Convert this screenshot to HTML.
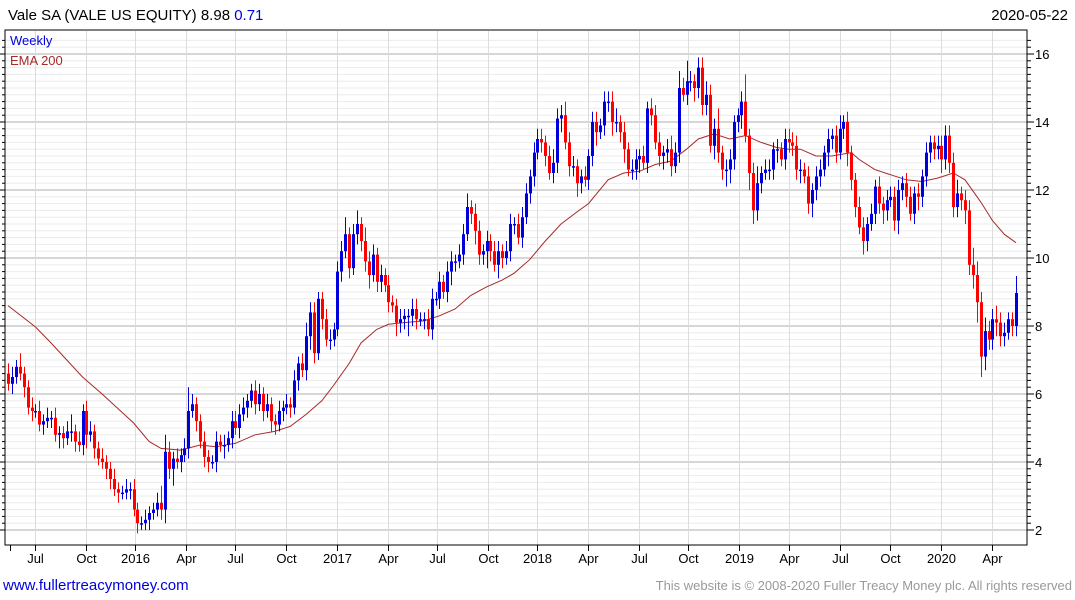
<!DOCTYPE html>
<html><head><meta charset="utf-8"><style>
html,body{margin:0;padding:0;background:#fff;width:1075px;height:600px;overflow:hidden;font-family:"Liberation Sans",sans-serif;}
svg{display:block}
</style></head><body>
<svg id="chart" width="1075" height="600" viewBox="0 0 1075 600">
<text x="8" y="20" font-size="15" fill="#000">Vale SA (VALE US EQUITY) 8.98 <tspan fill="#0000dd">0.71</tspan></text>
<text x="1068" y="20" font-size="15" fill="#000" text-anchor="end">2020-05-22</text>
<g id="grid"></g>
<g id="ema"></g>
<g id="candles"></g>
<rect x="5" y="30" width="1022" height="515" fill="none" stroke="#000" stroke-width="1"/>
<g id="axes"></g>
<text x="10" y="45" font-size="13" fill="#0000dd">Weekly</text>
<text x="10" y="65" font-size="13" fill="#a52a2a">EMA 200</text>
<text x="3" y="590" font-size="15" fill="#0000dd">www.fullertreacymoney.com</text>
<text x="1072" y="590" font-size="13" fill="#999" text-anchor="end">This website is © 2008-2020 Fuller Treacy Money plc. All rights reserved</text>
</svg>
<script>
const closes=[6.3,6.5,6.8,6.6,6.2,5.6,5.5,5.5,5.1,5.2,5.3,5.3,4.8,4.85,4.7,4.9,4.9,4.6,4.5,5.5,4.8,4.9,4.4,4.1,4.0,3.8,3.5,3.2,3.1,3.1,3.2,3.2,2.6,2.2,2.2,2.3,2.5,2.6,2.8,2.6,4.3,3.8,4.1,4.0,4.2,4.4,5.5,5.7,5.2,4.6,4.15,4.0,4.0,4.6,4.5,4.5,4.7,5.2,5.0,5.4,5.6,5.8,6.1,5.7,6.0,5.5,5.7,5.2,5.1,5.5,5.6,5.7,5.6,6.4,6.9,6.7,7.7,8.4,7.2,8.8,8.2,7.6,7.6,7.9,
9.6,10.2,10.7,9.7,10.7,11.0,10.5,9.9,9.5,10.1,9.3,9.5,9.2,8.7,8.6,8.1,8.2,8.3,8.3,8.5,8.2,8.2,8.2,7.9,8.8,8.8,9.3,9.0,9.6,9.9,9.9,10.1,10.7,11.5,11.3,10.8,10.1,10.2,10.5,10.2,9.8,10.2,10.0,10.2,11.0,11.0,10.6,11.2,11.9,12.4,
13.1,13.5,13.4,13.0,12.5,12.8,14.1,14.2,13.4,12.7,12.7,12.2,12.4,12.3,13.0,14.0,13.7,13.9,14.6,14.6,14.0,14.0,13.7,13.2,12.6,12.6,12.9,13.0,12.8,14.4,14.2,13.4,13.0,13.1,13.2,12.7,13.1,15.0,14.8,15.2,15.2,15.0,15.6,14.5,14.8,13.3,13.8,13.1,12.6,12.6,12.9,14.0,14.2,14.6,13.6,12.5,11.4,12.2,12.5,12.6,12.6,13.2,13.2,12.9,13.5,13.4,13.3,12.6,
12.6,12.4,11.6,12.0,12.4,12.6,13.1,13.5,13.6,13.1,13.8,14.0,13.1,12.3,11.5,10.9,10.5,11.0,11.3,12.1,11.6,11.4,11.7,11.8,11.1,12.0,12.2,11.8,11.3,11.9,11.8,12.4,13.1,13.4,13.2,13.3,12.9,13.6,12.8,11.5,11.9,11.7,11.4,9.8,9.5,8.7,7.1,7.85,7.6,8.2,8.1,7.7,7.8,8.2,8.0,8.97];
const firstOpen=6.6;
const wickUp=[3,3,2,4,2,2,3,2,3,2,3,2,3,2,2,3,5,2,3,2,
3,3,2,2,3,2,2,3,2,2,3,2,3,2,2,3,2,2,3,5,
5,3,2,3,2,3,7,3,2,2,3,2,2,3,2,3,2,3,3,3,
3,2,2,3,3,2,3,2,2,3,2,3,2,3,2,3,4,3,3,2,
2,3,3,2,3,3,5,2,3,4,2,4,3,3,2,3,2,3,2,2,
3,2,2,3,3,2,2,3,3,2,3,2,3,3,2,3,3,4,2,3,
3,2,3,2,3,3,2,3,3,2,3,3,3,2,3,3,3,2,3,4,
3,3,4,3,3,2,2,3,2,3,3,2,3,3,3,4,2,3,2,3,
3,2,3,2,3,3,3,2,3,4,3,5,3,6,3,2,3,3,4,3,
3,6,2,3,3,2,2,3,8,2,3,5,2,3,3,2,3,2,3,3,
3,3,3,2,3,2,3,3,2,3,2,3,4,2,3,2,2,3,3,2,
3,2,3,2,3,3,3,3,2,3,3,2,3,2,3,2,2,3,3,3,
3,3,4,2,3,3,5,4,3,4,3,3,4,3,3,2,2,5];
const wickDn=[2,3,2,2,3,2,3,2,2,3,2,3,2,4,3,2,3,3,2,3,
4,2,3,2,2,3,3,2,3,2,2,3,2,3,2,2,3,2,2,3,
4,3,5,2,3,2,3,2,3,2,3,3,2,3,2,4,2,3,2,3,
2,3,2,3,2,3,2,3,3,2,3,2,3,2,3,2,3,4,3,2,
3,2,3,2,2,3,2,3,2,3,3,3,4,2,3,3,2,3,2,4,
3,3,6,3,3,2,3,2,3,2,3,2,3,4,3,2,3,2,3,4,
3,3,5,3,2,4,3,2,3,3,2,3,2,3,3,2,3,3,2,3,
3,4,2,3,3,4,3,2,3,3,4,2,3,3,4,3,3,4,2,3,
3,4,2,3,3,2,3,4,3,3,2,3,2,3,3,4,3,3,3,2,
4,3,3,5,4,3,3,4,2,5,4,3,3,2,3,3,4,2,3,3,
3,3,4,2,3,4,3,3,2,4,3,3,2,3,4,3,3,2,4,3,
2,3,3,4,3,2,3,4,3,3,2,3,4,3,3,3,3,3,4,3,
3,3,3,3,4,3,4,6,6,4,3,3,4,3,3,2,3,3];
const emaWeeks=[0,7,11,19,24,32,36,39,44,49,53,58,63,68,72,76,80,83,87,90,94,97,101,106,110,114,118,122,126,129,133,137,141,145,148,153,157,161,165,169,173,176,180,184,188,192,196,199,202,206,210,215,217,221,225,229,233,237,241,244,248,251,254,257];
const emaVals=[8.6,7.97,7.5,6.5,6.0,5.15,4.6,4.4,4.35,4.5,4.45,4.55,4.8,4.9,5.05,5.4,5.8,6.25,6.9,7.5,7.9,8.05,8.1,8.15,8.3,8.5,8.9,9.15,9.35,9.55,9.95,10.5,11.0,11.35,11.6,12.3,12.5,12.55,12.75,12.85,13.2,13.5,13.65,13.5,13.6,13.4,13.25,13.2,13.2,13.0,13.0,13.1,12.9,12.6,12.45,12.3,12.25,12.35,12.5,12.3,11.65,11.1,10.7,10.45];
const yTicks=[2,4,6,8,10,12,14,16];
const monthLabels=["Jul","Oct","2016","Apr","Jul","Oct","2017","Apr","Jul","Oct","2018","Apr","Jul","Oct","2019","Apr","Jul","Oct","2020","Apr"];
const monthWeeks=[7,20,32.5,45.5,58,71,84,97,109.5,122.5,135,148,161,173.5,186.5,199,212,225,238,251];

const NS="http://www.w3.org/2000/svg";
const N=closes.length;
const X0=8,X1=1016;
function xs(i){return X0+i*(X1-X0)/(N-1);}
function ys(v){return 530-(v-2)*34;}
function mk(tag,attrs,parent){const e=document.createElementNS(NS,tag);for(const k in attrs)e.setAttribute(k,attrs[k]);parent.appendChild(e);return e;}
const grid=document.getElementById('grid'),axes=document.getElementById('axes'),cg=document.getElementById('candles'),eg=document.getElementById('ema');
// horizontal grid
for(let k=0;k<=72;k++){const v=2+k*0.2;const y=ys(v);if(y<31||y>544)continue;const major=(k%10===0);
 const l=mk('line',{x1:5,x2:1027,y1:y,y2:y,stroke:major?'#bdbdbd':'#ebebeb','stroke-width':major?1.2:1},grid);
 
 
 const t=mk('line',{x1:1027,x2:major?1034:1031,y1:y,y2:y,stroke:'#000'},axes);
 
 
 const t2=mk('line',{x1:5,x2:major?0:2,y1:y,y2:y,stroke:'#000'},axes);
 
 
}
// y labels
yTicks.forEach(v=>{const t=mk('text',{x:1035,y:ys(v)+5,'font-size':13,fill:'#000'},axes);t.textContent=v;
 
 });
// vertical grid + x labels
monthWeeks.forEach((w,j)=>{const x=Math.round(xs(w))+0.5;
 const l=mk('line',{x1:x,x2:x,y1:31,y2:545,stroke:'#dcdcdc'},grid);
 
 
 const t=mk('line',{x1:x,x2:x,y1:545,y2:551,stroke:'#000'},axes);
 
 
 const tx=mk('text',{x:x,y:563,'font-size':13,fill:'#000','text-anchor':'middle'},axes);tx.textContent=monthLabels[j];
 
 });
{const t=mk('line',{x1:10.5,x2:10.5,y1:545,y2:551,stroke:'#000'},axes);
 
 }
// EMA
let d='';emaWeeks.forEach((w,j)=>{d+=(j?'L':'M')+xs(w).toFixed(1)+' '+ys(emaVals[j]).toFixed(1);});
{const p=mk('path',{d:d,fill:'none',stroke:'#a52a2a','stroke-width':1},eg);
 
 }
// candles
for(let i=0;i<N;i++){const c=closes[i];const o=i?closes[i-1]:firstOpen;const up=c>=o;const col=up?'#0000dd':'#ff0000';
 const hi=Math.max(o,c)+wickUp[i]/10,lo=Math.min(o,c)-wickDn[i]/10;const x=Math.round(xs(i));
 const g=mk('g',{},cg);
 
 
 mk('line',{x1:x+0.5,x2:x+0.5,y1:ys(hi),y2:ys(lo),stroke:col,'stroke-width':1},g);
 const top=ys(Math.max(o,c)),bot=ys(Math.min(o,c));
 mk('rect',{x:x-1,y:top,width:3,height:Math.max(1.5,bot-top),fill:col},g);
}
</script>
</body></html>
